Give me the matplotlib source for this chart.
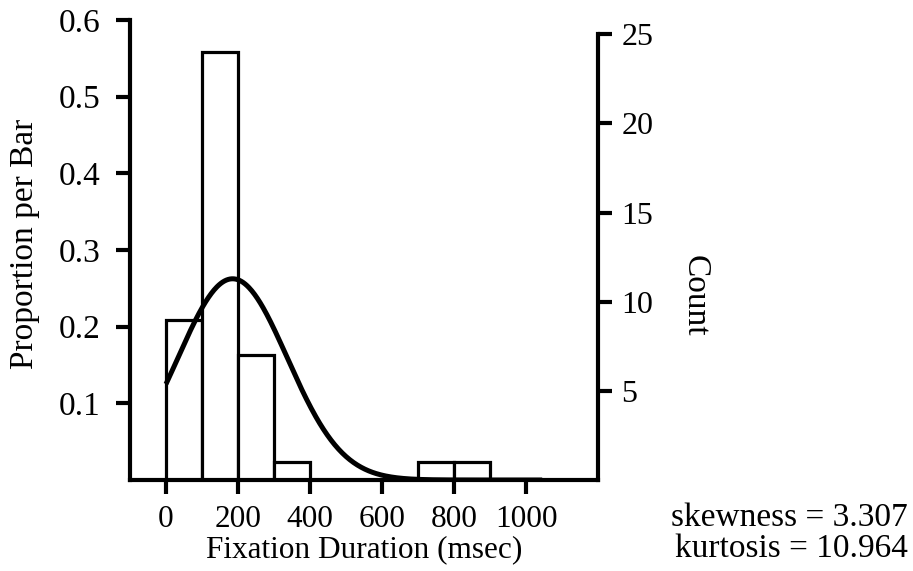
import numpy as np
import matplotlib
matplotlib.use("Agg")
import matplotlib.pyplot as plt

# Data
bin_edges = [0, 100, 200, 300, 400, 500, 600, 700, 800, 900, 1000]
counts = [9, 24, 7, 1, 0, 0, 0, 1, 1, 0]
fit_mean = 185.0
fit_sd = 152.0
curve_range = (0, 1045)
x_ticks = [0, 200, 400, 600, 800, 1000]
left_ticks = [0.1, 0.2, 0.3, 0.4, 0.5, 0.6]
right_ticks = [5, 10, 15, 20, 25]
stats_text = ["skewness = 3.307", "kurtosis = 10.964"]

plt.rcParams['font.family'] = ['Liberation Serif', 'DejaVu Serif']

total = sum(counts)
props = [c / total for c in counts]
widths = np.diff(bin_edges)

fig = plt.figure(figsize=(9.13, 5.71), dpi=100)
ax = fig.add_axes([130/913, 91/571, 468/913, 460/571])

ax.bar(bin_edges[:-1], props, width=widths, align='edge', facecolor='white',
       edgecolor='black', linewidth=2.3, zorder=2)

xs = np.linspace(curve_range[0], curve_range[1], 400)
binw = 100
ys = binw / (fit_sd * np.sqrt(2 * np.pi)) * np.exp(-0.5 * ((xs - fit_mean) / fit_sd) ** 2)
ax.plot(xs, ys, color='black', linewidth=3.6, zorder=3, solid_capstyle='butt')

ax.set_xlim(-100, 1200)
ax.set_ylim(0, 0.6)
ax.set_xticks(x_ticks)
ax.set_yticks(left_ticks)
ax.set_yticklabels([f"{t:.1f}" for t in left_ticks])
for s in ['top', 'right']:
    ax.spines[s].set_visible(False)
ax.spines['left'].set_linewidth(3.0)
ax.spines['bottom'].set_linewidth(3.0)
ax.spines['left'].set_bounds(0, 0.6)
ax.tick_params(axis='x', direction='out', length=10, width=3.0, labelsize=22.5, pad=8)
ax.tick_params(axis='y', direction='out', length=10, width=3.0, labelsize=24, pad=11)
ax.set_xlabel("Fixation Duration (msec)", fontsize=22.5, labelpad=1)
fig.text(25/913, 1 - 244/571, "Proportion per Bar", rotation=90, ha='center',
         va='center', fontsize=24)

ax2 = ax.twinx()
ax2.set_ylim(0, 0.6 * total)
ax2.set_yticks(right_ticks)
for s in ['top', 'left', 'bottom']:
    ax2.spines[s].set_visible(False)
ax2.spines['right'].set_linewidth(3.0)
ax2.spines['right'].set_bounds(0, 25)
ax2.tick_params(axis='y', direction='out', length=10, width=3.0, labelsize=23, pad=7)
fig.text(695/913, 1 - 296/571, "Count", rotation=270, ha='center', va='center',
         fontsize=24)

fig.text(908/913, 1 - 518/571, stats_text[0], ha='right', va='center', fontsize=24)
fig.text(908/913, 1 - 549/571, stats_text[1], ha='right', va='center', fontsize=24)

fig.savefig("out.png", dpi=100)
